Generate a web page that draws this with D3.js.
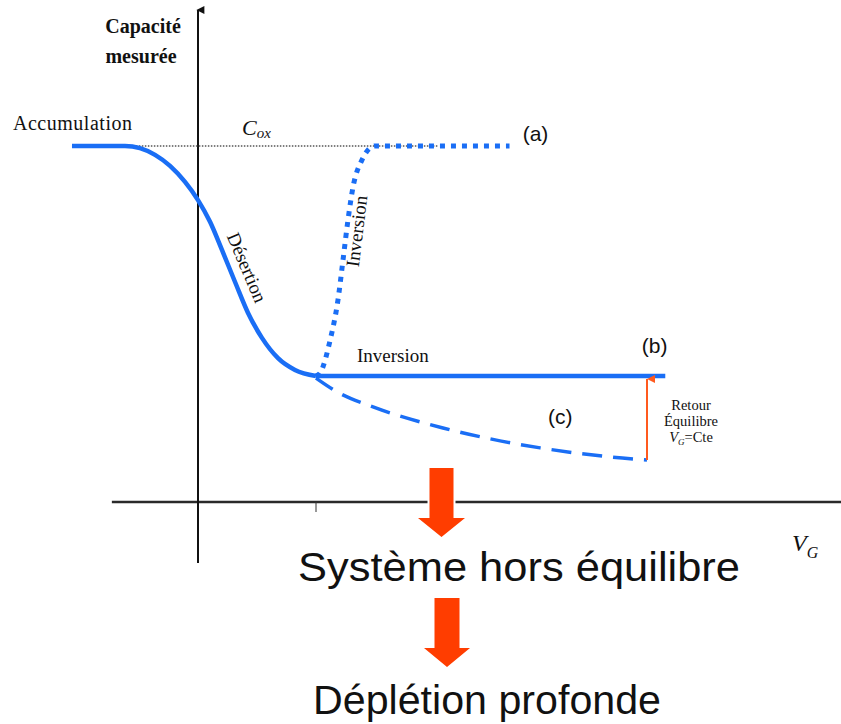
<!DOCTYPE html>
<html>
<head>
<meta charset="utf-8">
<script src="https://cdn.jsdelivr.net/npm/d3@7"></script>
<style>
  html, body { margin: 0; padding: 0; background: #fff; }
  svg { display: block; }
  .serif { font-family: "Liberation Serif", "DejaVu Serif", serif; fill: #111; }
  .sans { font-family: "Liberation Sans", Arial, sans-serif; fill: #111; }
</style>
</head>
<body>
<svg id="chart" width="841" height="724"></svg>
<script>
// C(V) characteristic of a MOS capacitor, normalised: C / Cox versus gate voltage
// (V = 1 marks the onset of strong inversion).

// Accumulation -> depletion ("désertion") branch, common to all three curves
const accumulationDepletion = [
  [-1.068, 1.0], [-0.619, 1.0], [-0.492, 0.994], [-0.364, 0.975], [-0.237, 0.944],
  [-0.110, 0.899], [0.0, 0.848], [0.102, 0.787], [0.203, 0.708], [0.314, 0.618],
  [0.424, 0.531], [0.542, 0.461], [0.678, 0.404], [0.822, 0.371], [1.0, 0.354]
];
// (a) low frequency: capacitance returns to Cox in inversion
const lowFrequency = [
  [1.0, 0.354], [1.034, 0.362], [1.12, 0.455], [1.186, 0.567], [1.229, 0.68],
  [1.271, 0.792], [1.314, 0.885], [1.39, 0.961], [1.5, 1.0], [2.64, 1.0]
];
// (b) high frequency: capacitance stays at its minimum
const highFrequency = [[1.0, 0.354], [3.96, 0.354]];
// (c) deep depletion: capacitance keeps falling
const deepDepletion = [
  [1.0, 0.348], [1.18, 0.309], [1.483, 0.267], [2.076, 0.208],
  [2.9, 0.152], [3.517, 0.126], [3.805, 0.118]
];
// Cox reference level
const coxLevel = [[-0.73, 1.0], [2.03, 1.0]];
// Return to equilibrium at constant VG
const relaxation = { v: 3.805, from: 0.118, to: 0.354 };

const curveLabels = [
  { text: "(a)", v: 2.86, c: 1.0, dy: -5 },
  { text: "(b)", v: 3.87, c: 0.354, dy: -23 },
  { text: "(c)", v: 3.07, c: 0.354, dy: 48 }
];
const xTicks = [1];

const svg = d3.select("#chart");
const x = d3.scaleLinear().domain([0, 1]).range([198, 316]);
const y = d3.scaleLinear().domain([0, 1]).range([502, 146]);

const blue = "#1a6ef5";
const line = d3.line().x(d => x(d[0])).y(d => y(d[1])).curve(d3.curveMonotoneX);

// ---- axes ----
const defs = svg.append("defs");
defs.append("marker").attr("id", "yArrow").attr("viewBox", "0 0 10 10")
  .attr("refX", 5).attr("refY", 2).attr("markerWidth", 8).attr("markerHeight", 10)
  .attr("markerUnits", "userSpaceOnUse").attr("orient", "auto-start-reverse")
  .append("path").attr("d", "M0,10 L5,0 L10,10 Z").attr("fill", "#111");

svg.append("line")
  .attr("x1", x(-0.73)).attr("x2", 841).attr("y1", y(0)).attr("y2", y(0))
  .attr("stroke", "#2a2a2a").attr("stroke-width", 2.5);

svg.append("line")
  .attr("x1", x(0)).attr("x2", x(0)).attr("y1", 563).attr("y2", 10)
  .attr("stroke", "#111").attr("stroke-width", 2)
  .attr("marker-end", "url(#yArrow)");

svg.selectAll(".tick").data(xTicks).enter().append("line")
  .attr("x1", d => x(d)).attr("x2", d => x(d))
  .attr("y1", y(0)).attr("y2", y(0) + 10)
  .attr("stroke", "#333").attr("stroke-width", 1);

// ---- Cox level ----
svg.append("path").attr("d", d3.line().x(d => x(d[0])).y(d => y(d[1]))(coxLevel))
  .attr("fill", "none").attr("stroke", "#555").attr("stroke-width", 1.5)
  .attr("stroke-dasharray", "1.5,1.5");

// ---- curves ----
svg.append("path").attr("d", line(accumulationDepletion))
  .attr("fill", "none").attr("stroke", blue).attr("stroke-width", 4.5);

svg.append("path").attr("d", line(highFrequency))
  .attr("fill", "none").attr("stroke", blue).attr("stroke-width", 4.5);

svg.append("path").attr("d", line(lowFrequency))
  .attr("fill", "none").attr("stroke", blue).attr("stroke-width", 5)
  .attr("stroke-dasharray", "5,6");

svg.append("path").attr("d", line(deepDepletion))
  .attr("fill", "none").attr("stroke", blue).attr("stroke-width", 3.5)
  .attr("stroke-dasharray", "20,11");

// ---- relaxation arrow ----
defs.append("marker").attr("id", "redHead").attr("viewBox", "0 0 10 10")
  .attr("refX", 5).attr("refY", 0).attr("markerWidth", 8).attr("markerHeight", 10)
  .attr("markerUnits", "userSpaceOnUse").attr("orient", "auto-start-reverse")
  .append("path").attr("d", "M0,10 L5,0 L10,10 Z").attr("fill", "#ff5a1e");

svg.append("line")
  .attr("x1", x(relaxation.v)).attr("x2", x(relaxation.v))
  .attr("y1", y(relaxation.from)).attr("y2", y(relaxation.to) + 3)
  .attr("stroke", "#ff5a1e").attr("stroke-width", 2)
  .attr("marker-end", "url(#redHead)");

// ---- labels ----
const capLabel = svg.append("text").attr("class", "serif")
  .attr("font-weight", "bold").attr("font-size", 20).attr("text-anchor", "middle");
capLabel.append("tspan").attr("x", 143).attr("y", 33).text("Capacité");
capLabel.append("tspan").attr("x", 141).attr("y", 63).text("mesurée");

svg.append("text").attr("class", "serif").attr("font-size", 20)
  .attr("x", 13).attr("y", 130).attr("textLength", 119).text("Accumulation");

const cox = svg.append("text").attr("class", "serif").attr("font-style", "italic")
  .attr("x", 242).attr("y", 135);
cox.append("tspan").attr("font-size", 22).text("C");
cox.append("tspan").attr("font-size", 15).attr("dy", 3).text("ox");

svg.selectAll(".curveLabel").data(curveLabels).enter().append("text")
  .attr("class", "sans").attr("font-size", 21).attr("fill", "#222")
  .attr("x", d => x(d.v)).attr("y", d => y(d.c) + d.dy)
  .attr("text-anchor", "middle").text(d => d.text);

svg.append("text").attr("class", "serif").attr("font-size", 19)
  .attr("x", 357).attr("y", 362).text("Inversion");

svg.append("text").attr("class", "serif").attr("font-size", 19)
  .attr("text-anchor", "middle")
  .attr("transform", "translate(241,270) rotate(67)").text("Désertion");

svg.append("text").attr("class", "serif").attr("font-size", 19)
  .attr("text-anchor", "middle")
  .attr("transform", "translate(363,232) rotate(-83)").text("Inversion");

const retour = svg.append("text").attr("class", "serif").attr("font-size", 14.5)
  .attr("text-anchor", "middle");
retour.append("tspan").attr("x", 691).attr("y", 410).text("Retour");
retour.append("tspan").attr("x", 691).attr("y", 426).text("Équilibre");
const vg = retour.append("tspan").attr("x", 691).attr("y", 442);
vg.append("tspan").attr("font-style", "italic").text("V");
vg.append("tspan").attr("font-style", "italic").attr("font-size", 9).attr("dy", 3).text("G");
vg.append("tspan").attr("dy", -3).text("=Cte");

const vgAxis = svg.append("text").attr("class", "serif").attr("font-style", "italic")
  .attr("x", 792).attr("y", 551);
vgAxis.append("tspan").attr("font-size", 24).text("V");
vgAxis.append("tspan").attr("font-size", 16).attr("dy", 7).text("G");

// ---- block arrows and conclusions ----
function blockArrow(cx, top, headStart, tip, shaftW, headW) {
  const s = shaftW / 2, h = headW / 2;
  return `M${cx - s},${top} L${cx + s},${top} L${cx + s},${headStart} L${cx + h},${headStart}
          L${cx},${tip} L${cx - h},${headStart} L${cx - s},${headStart} Z`;
}
svg.append("path").attr("d", blockArrow(441.5, 468, 518, 537, 24, 47))
  .attr("fill", "#ff3d00").attr("stroke", "#fff").attr("stroke-width", 4)
  .attr("paint-order", "stroke");
svg.append("path").attr("d", blockArrow(447, 598, 648, 667, 25, 46))
  .attr("fill", "#ff3d00");

svg.append("text").attr("class", "sans").attr("font-size", 40)
  .attr("x", 298).attr("y", 581).attr("textLength", 442)
  .attr("lengthAdjust", "spacingAndGlyphs").text("Système hors équilibre");

svg.append("text").attr("class", "sans").attr("font-size", 40)
  .attr("x", 313).attr("y", 714).attr("textLength", 348)
  .attr("lengthAdjust", "spacingAndGlyphs").text("Déplétion profonde");
</script>
</body>
</html>
